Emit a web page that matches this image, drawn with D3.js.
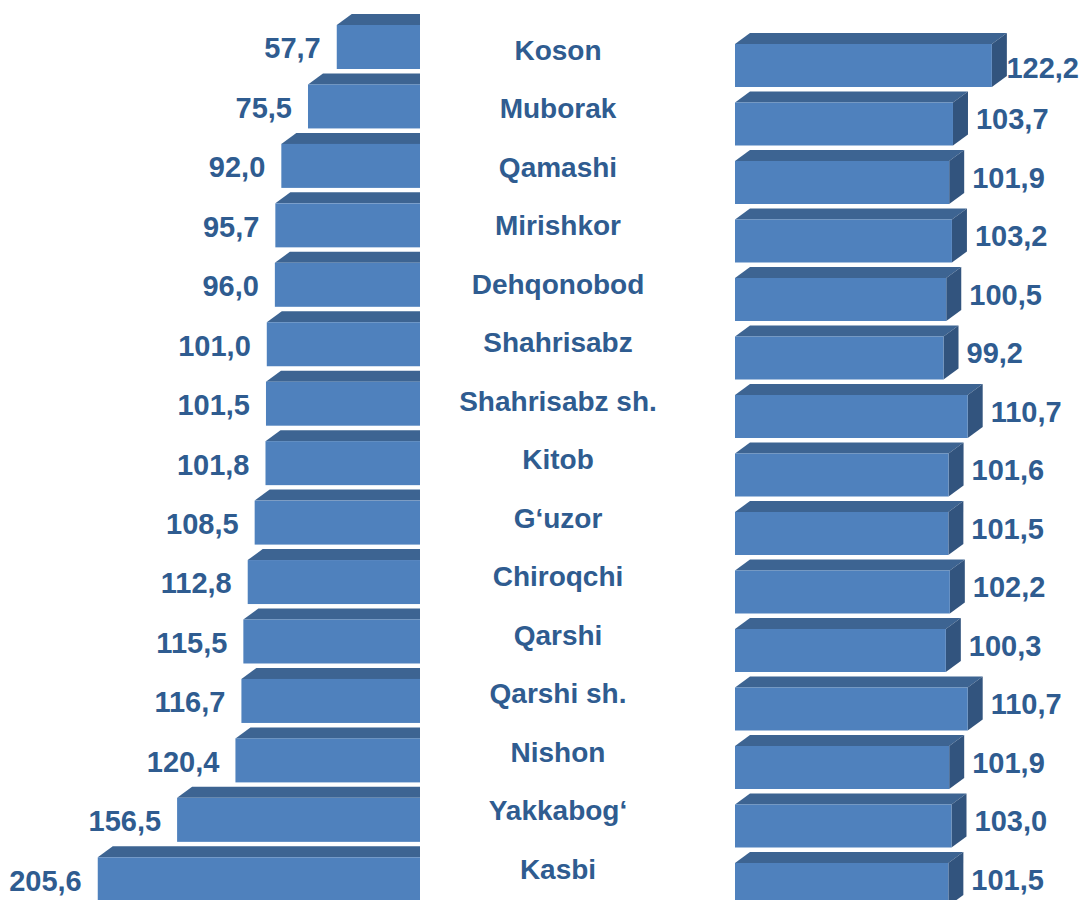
<!DOCTYPE html>
<html>
<head>
<meta charset="utf-8">
<script src="https://cdn.jsdelivr.net/npm/d3@7/dist/d3.min.js"></script>
<style>
  html, body { margin: 0; padding: 0; background: #ffffff; }
  svg { display: block; }
  text { font-family: Arial, "Liberation Sans", sans-serif; font-weight: bold; }
</style>
</head>
<body>
<svg id="chart" width="1083" height="900"></svg>
<script>
// Districts, top to bottom
const categories = ["Koson", "Muborak", "Qamashi", "Mirishkor", "Dehqonobod", "Shahrisabz",
  "Shahrisabz sh.", "Kitob", "G\u2018uzor", "Chiroqchi", "Qarshi", "Qarshi sh.", "Nishon",
  "Yakkabog\u2018", "Kasbi"];
// Left panel values
const leftValues = [57.7, 75.5, 92.0, 95.7, 96.0, 101.0, 101.5, 101.8, 108.5, 112.8, 115.5,
  116.7, 120.4, 156.5, 205.6];
// Right panel values
const rightValues = [122.2, 103.7, 101.9, 103.2, 100.5, 99.2, 110.7, 101.6, 101.5, 102.2,
  100.3, 110.7, 101.9, 103.0, 101.5];

const W = 1083, H = 900;
const FRONT = "#4f81bd", TOP = "#3d6492", SIDE = "#32547e", TEXT = "#2f5c90";
const DX = 15, DY = 11;           // 3D depth offset
const FONT = 28, NUM_FONT = 29;
const cap = s => s * 0.716;
const fmt = v => d3.format(".1f")(v).replace(".", ",");

const svg = d3.select("#chart");
const n = categories.length;

// ---- scales ----
const leftStep = 59.45, leftPad = 0.26;
const yLeft = d3.scaleBand().domain(categories)
  .range([25, 25 + leftStep * (n - leftPad)]).paddingInner(leftPad).paddingOuter(0);
const xLeft = d3.scaleLinear().domain([0, 210]).range([430, 430 - 210 * 1.616]);

const rightStep = 58.5, rightPad = 0.265;
const yRight = d3.scaleBand().domain(categories)
  .range([44, 44 + rightStep * (n - rightPad)]).paddingInner(rightPad).paddingOuter(0);
const xRight = d3.scaleLinear().domain([0, 130]).range([735, 735 + 130 * 2.102]);

// ---- left panel (bars grow leftwards, clipped at the inner edge) ----
svg.append("defs").append("clipPath").attr("id", "leftClip")
  .append("rect").attr("x", 0).attr("y", 0).attr("width", 420).attr("height", H);

const gL = svg.append("g").attr("clip-path", "url(#leftClip)");
const leftData = categories.map((c, i) => ({ c, v: leftValues[i] }));

gL.selectAll("path.top").data(leftData).join("path")
  .attr("class", "top")
  .attr("fill", TOP)
  .attr("d", d => {
    const x0 = xLeft(d.v), x1 = xLeft(0), y = yLeft(d.c);
    return `M${x0},${y}L${x0 + DX},${y - DY}L${x1 + DX},${y - DY}L${x1},${y}Z`;
  });
gL.selectAll("rect.front").data(leftData).join("rect")
  .attr("class", "front")
  .attr("fill", FRONT)
  .attr("x", d => xLeft(d.v))
  .attr("y", d => yLeft(d.c))
  .attr("width", d => xLeft(0) - xLeft(d.v))
  .attr("height", yLeft.bandwidth());

svg.append("g").selectAll("text").data(leftData).join("text")
  .attr("fill", TEXT)
  .attr("font-size", NUM_FONT)
  .attr("text-anchor", "end")
  .attr("x", d => xLeft(d.v) - 16)
  .attr("y", d => yLeft(d.c) + yLeft.bandwidth() / 2 + cap(NUM_FONT) / 2 + 1)
  .text(d => fmt(d.v));

// ---- category labels ----
svg.append("g").selectAll("text").data(categories).join("text")
  .attr("fill", TEXT)
  .attr("font-size", FONT)
  .attr("text-anchor", "middle")
  .attr("x", 558)
  .attr("y", d => yRight(d) + yRight.bandwidth() / 2 - 16 + cap(FONT) / 2)
  .text(d => d);

// ---- right panel ----
const gR = svg.append("g");
const rightData = categories.map((c, i) => ({ c, v: rightValues[i] }));

gR.selectAll("path.top").data(rightData).join("path")
  .attr("class", "top")
  .attr("fill", TOP)
  .attr("d", d => {
    const x0 = xRight(0), x1 = xRight(d.v), y = yRight(d.c);
    return `M${x0},${y}L${x0 + DX},${y - DY}L${x1 + DX},${y - DY}L${x1},${y}Z`;
  });
gR.selectAll("path.side").data(rightData).join("path")
  .attr("class", "side")
  .attr("fill", SIDE)
  .attr("d", d => {
    const x1 = xRight(d.v), y = yRight(d.c), h = yRight.bandwidth();
    return `M${x1},${y}L${x1 + DX},${y - DY}L${x1 + DX},${y + h - DY}L${x1},${y + h}Z`;
  });
gR.selectAll("rect.front").data(rightData).join("rect")
  .attr("class", "front")
  .attr("fill", FRONT)
  .attr("x", xRight(0))
  .attr("y", d => yRight(d.c))
  .attr("width", d => xRight(d.v) - xRight(0))
  .attr("height", yRight.bandwidth());

const rLabels = svg.append("g").selectAll("text").data(rightData).join("text")
  .attr("fill", TEXT)
  .attr("font-size", NUM_FONT)
  .attr("text-anchor", "start")
  .text(d => fmt(d.v));
// keep labels inside the canvas; a label pushed back over the bar's side drops slightly
rLabels.each(function (d) {
  const w = this.getComputedTextLength();
  const ideal = xRight(d.v) + 23;
  const x = Math.min(ideal, W - 4 - w);
  const shift = x < ideal ? 2 : -5;
  d3.select(this)
    .attr("x", x)
    .attr("y", yRight(d.c) + yRight.bandwidth() / 2 + shift + cap(NUM_FONT) / 2);
});
</script>
</body>
</html>
